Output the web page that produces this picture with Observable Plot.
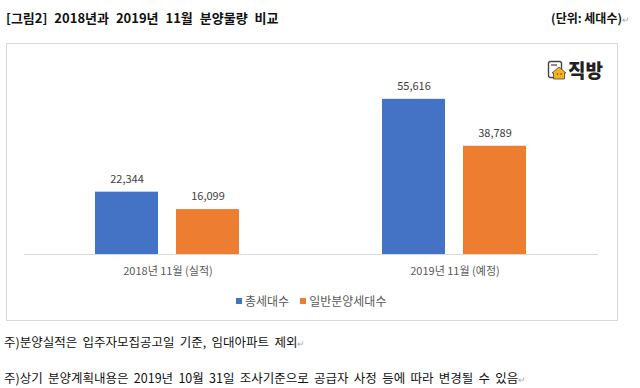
<!DOCTYPE html>
<html><head><meta charset="utf-8">
<script src="https://cdn.jsdelivr.net/npm/d3@7"></script>
<script src="https://cdn.jsdelivr.net/npm/@observablehq/plot@0.6"></script>
<style>
body{margin:0;background:#fff;font-family:"Noto Sans CJK KR","Noto Sans",sans-serif;width:640px;height:388px;position:relative;overflow:hidden;}
.abs{position:absolute;white-space:nowrap;}
.title{left:6px;top:8px;font-size:13px;font-weight:bold;color:#111;word-spacing:4px;}
.unit{right:10px;top:9px;font-size:12px;font-weight:bold;color:#111;}
.pm{color:#aaa;font-size:9px;font-weight:normal;}
.box{left:6px;top:43px;width:610px;height:276px;border:1px solid #d9d9d9;}
.note{left:4px;font-size:12.5px;color:#111;word-spacing:2.5px;}
.legend{top:292px;left:236px;font-size:12px;color:#595959;display:flex;align-items:center;}
.sw{display:inline-block;width:6px;height:6px;margin-right:3px;}
.logo{left:547px;top:56px;display:flex;align-items:center;font-weight:900;font-size:19px;color:#222;}
</style></head>
<body>
<div class="abs title">[그림2] 2018년과 2019년 11월 분양물량 비교</div>
<div class="abs unit">(단위: 세대수)<span class="pm">↵</span></div>
<div class="abs box"></div>
<div id="chart" class="abs" style="left:0;top:43px;"></div>
<div class="abs logo"><svg width="20" height="20" viewBox="0 0 20 20"><rect x="1.5" y="1.5" width="13" height="16" rx="2" fill="#fff" stroke="#444" stroke-width="1.4"/><line x1="4" y1="5" x2="10" y2="5" stroke="#444" stroke-width="1.2"/><path d="M5 13 L12 7 L19 13 L17.5 13 L17.5 19 L6.5 19 L6.5 13 Z" fill="#f5b21b" stroke="#444" stroke-width="0.8"/><circle cx="10.5" cy="14" r="0.8" fill="#7a3b00"/><circle cx="14" cy="14" r="0.8" fill="#7a3b00"/></svg><span style="margin-left:1px">직방</span></div>
<div id="legend" class="abs legend"></div>
<div class="abs note" style="top:332px;">주)분양실적은 입주자모집공고일 기준, 임대아파트 제외<span class="pm">↵</span></div>
<div class="abs note" style="top:368px;">주)상기 분양계획내용은 2019년 10월 31일 조사기준으로 공급자 사정 등에 따라 변경될 수 있음<span class="pm">↵</span></div>
<script>
const categories = ["2018년 11월 (실적)", "2019년 11월 (예정)"];
const seriesNames = ["총세대수", "일반분양세대수"];
const totalUnits = [22344, 55616];
const generalUnits = [16099, 38789];
const colors = ["#4472C4", "#ED7D31"];

const data = categories.flatMap((c, i) => [
  {period: c, series: seriesNames[0], value: totalUnits[i]},
  {period: c, series: seriesNames[1], value: generalUnits[i]}
]);

const chart = Plot.plot({
  width: 640,
  height: 246,
  marginTop: 43.6,
  marginBottom: 35,
  marginLeft: 24,
  marginRight: 42,
  style: {fontFamily: '"Noto Sans CJK KR","Noto Sans",sans-serif', fontSize: "11px", color: "#595959", background: "transparent"},
  fx: {domain: categories, padding: 0, label: null, axis: null},
  x: {domain: seriesNames, axis: null, paddingInner: 0.22, paddingOuter: 0.87},
  y: {domain: [0, 60000], axis: null},
  color: {domain: seriesNames, range: colors},
  marks: [
    Plot.axisFx({anchor: "bottom", tickSize: 0, tickPadding: 13, label: null, fill: "#595959"}),
    Plot.barY(data, {fx: "period", x: "series", y: "value", fill: "series"}),
    Plot.ruleY([0], {stroke: "#d9d9d9", strokeWidth: 1}),
    Plot.text(data, {fx: "period", x: "series", y: "value", text: d => d3.format(",")(d.value), dy: -13, fill: "#404040", fontSize: 11})
  ]
});
document.getElementById("chart").appendChild(chart);

const lg = document.getElementById("legend");
seriesNames.forEach((s, i) => {
  const item = document.createElement("span");
  item.style.marginRight = "11px";
  item.style.display = "flex";
  item.style.alignItems = "center";
  item.innerHTML = `<span class="sw" style="background:${colors[i]}"></span>${s}`;
  lg.appendChild(item);
});
</script>
</body></html>
